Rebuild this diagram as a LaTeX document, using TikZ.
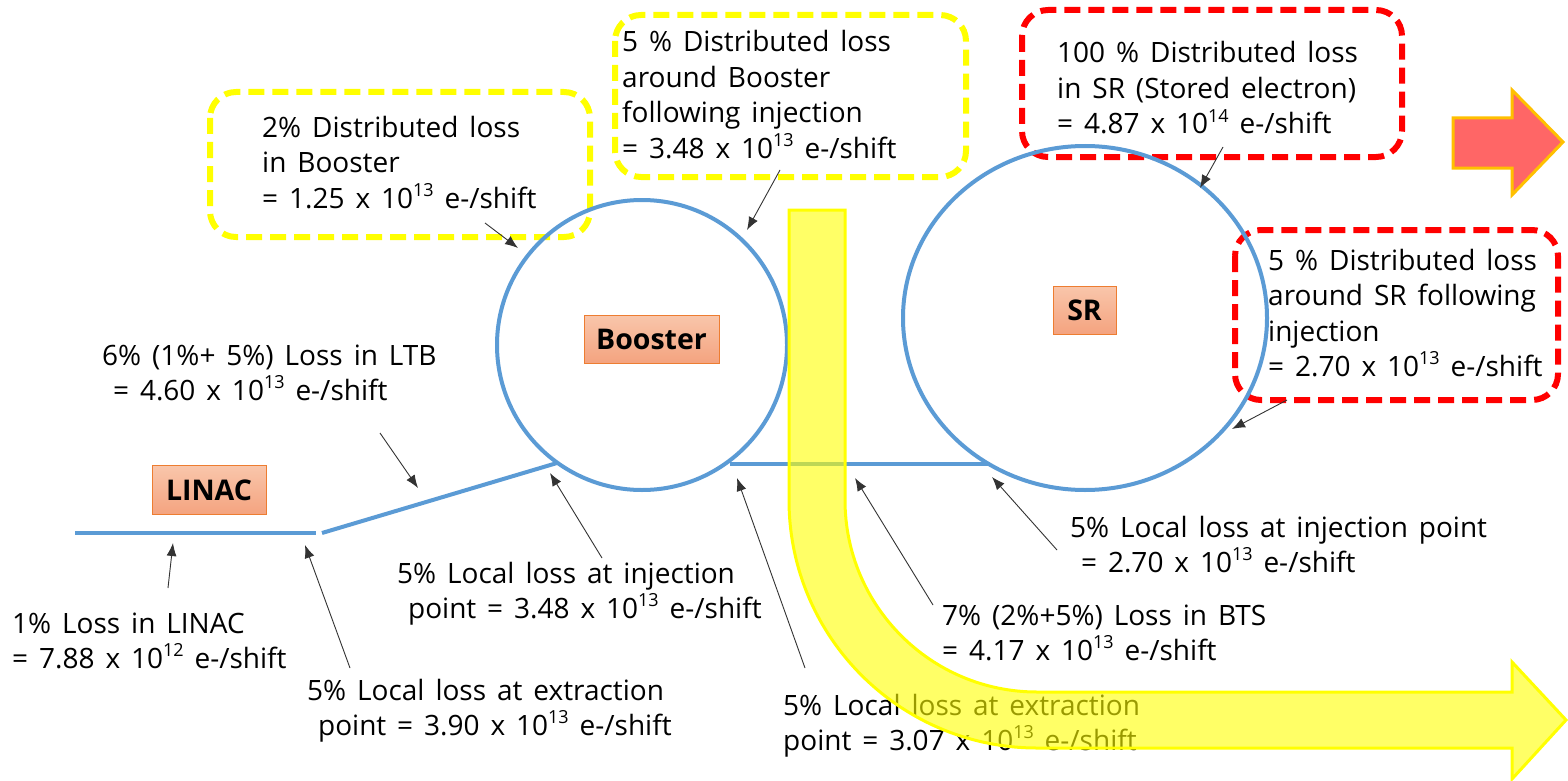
\documentclass[tikz,border=0pt]{standalone}
\usepackage{fontspec}
\setmainfont[WordSpace=1.5]{Open Sans}
\usetikzlibrary{arrows.meta}
\definecolor{beamblue}{HTML}{5B9BD5}
\definecolor{dashyellow}{HTML}{FFFF00}
\definecolor{dashred}{HTML}{FF0000}
\definecolor{redfill}{HTML}{FF6666}
\definecolor{goldline}{HTML}{FFC000}
\definecolor{boxtop}{HTML}{F9C6AB}
\definecolor{boxbot}{HTML}{F4A37F}
\definecolor{boxline}{HTML}{ED7D31}
\newcommand\ee[1]{\raisebox{0.42em}{\fontsize{18}{18}\selectfont #1}}
\newcommand\Ln[1]{\hbox{#1}}
\tikzset{
  beam/.style={draw=beamblue,line width=4pt},
  ring/.style={draw=beamblue,line width=4pt},
  yelbox/.style={draw=dashyellow,line width=6pt,rounded corners=26pt,dash pattern=on 16pt off 8pt},
  redbox/.style={draw=dashred,line width=6pt,rounded corners=26pt,dash pattern=on 16pt off 8pt},
  lbl/.style={anchor=base west,inner sep=0pt,font=\fontsize{28}{35.5}\selectfont},
  ptr/.style={draw=black!80,line width=0.9pt,-{Latex[length=13pt,width=10pt]}},
  tag/.style={draw=boxline,line width=1pt,top color=boxtop,bottom color=boxbot,
    font=\fontsize{28.5}{28.5}\selectfont\bfseries,inner sep=0pt},
}
\begin{document}
\begin{tikzpicture}[x=1pt,y=-1pt]
\useasboundingbox (0,0) rectangle (1568,781);
\fill[white] (0,0) rectangle (1568,781);

% dashed callout boxes
\draw[yelbox] (210,92) rectangle (590,237);
\draw[yelbox] (615,15) rectangle (966,177);
\draw[redbox] (1022,10) rectangle (1402,157);
\draw[redbox] (1235,230) rectangle (1558,400);

% rings and beam lines
\draw[ring] (642,345) circle [radius=145];
\draw[ring] (1085,318) ellipse [x radius=182, y radius=172];
\coordinate (linA) at (75,533);
\coordinate (linB) at (316,533);
\coordinate (ltbA) at (322,533);
\coordinate (ltbB) at (557,463);
\coordinate (btsA) at (730,464);
\coordinate (btsB) at (990,464);
\draw[beam] (linA) -- (linB);
\draw[beam] (ltbA) -- (ltbB);
\draw[beam] (btsA) -- (btsB);

% tags
\node[tag,minimum width=114pt,minimum height=49pt] (linac) at (209,490) {LINAC};
\node[tag,minimum width=135pt,minimum height=48pt] (booster) at (651.5,339) {Booster};
\node[tag,minimum width=63pt,minimum height=48pt] (sr) at (1084.5,310) {SR};

% red arrow
\draw[draw=goldline,fill=redfill,line width=3pt,line join=miter]
  (1453,118) -- (1512,118) -- (1512,90) -- (1563,142) -- (1512,195) -- (1512,168) -- (1453,168) -- cycle;

% labels
\node[lbl] (t1) at (262,137) {\vtop{\Ln{2\% Distributed loss}\Ln{in Booster}\Ln{= 1.25 x 10\ee{13} e-/shift}}};
\node[lbl] (t2) at (622,52) {\vtop{\Ln{5 \% Distributed loss}\Ln{around Booster}\Ln{following injection}\Ln{= 3.48 x 10\ee{13} e-/shift}}};
\node[lbl] (t3) at (1057,63) {\vtop{\Ln{100 \% Distributed loss}\Ln{in SR (Stored electron)}\Ln{= 4.87 x 10\ee{14} e-/shift}}};
\node[lbl] (t4) at (1268,270) {\vtop{\Ln{5 \% Distributed loss}\Ln{around SR following}\Ln{injection}\Ln{= 2.70 x 10\ee{13} e-/shift}}};
\node[lbl] (t5) at (102,365) {\vtop{\Ln{6\% (1\%+ 5\%) Loss in LTB}\Ln{\ = 4.60 x 10\ee{13} e-/shift}}};
\node[lbl] (t6) at (12,633) {\vtop{\Ln{1\% Loss in LINAC}\Ln{= 7.88 x 10\ee{12} e-/shift}}};
\node[lbl] (t7) at (307,700) {\vtop{\Ln{5\% Local loss at extraction}\Ln{\ point = 3.90 x 10\ee{13} e-/shift}}};
\node[lbl] (t8) at (397,583) {\vtop{\Ln{5\% Local loss at injection}\Ln{\ point = 3.48 x 10\ee{13} e-/shift}}};
\node[lbl] (t9) at (1070,537) {\vtop{\Ln{5\% Local loss at injection point}\Ln{\ = 2.70 x 10\ee{13} e-/shift}}};
\node[lbl] (t10) at (942,625) {\vtop{\Ln{7\% (2\%+5\%) Loss in BTS}\Ln{= 4.17 x 10\ee{13} e-/shift}}};
\node[lbl] (t11) at (783,715) {\vtop{\Ln{5\% Local loss at extraction}\Ln{point = 3.07 x 10\ee{13} e-/shift}}};

% pointer arrows
\coordinate (a1s) at (168,588); \coordinate (a1e) at (173,543);
\coordinate (a2s) at (350,668); \coordinate (a2e) at (305,545);
\coordinate (a3s) at (380,433); \coordinate (a3e) at (418,488);
\coordinate (a4s) at (602,558); \coordinate (a4e) at (550,473);
\coordinate (a5s) at (485,223); \coordinate (a5e) at (518,248);
\coordinate (a6s) at (780,170); \coordinate (a6e) at (747,230);
\coordinate (a7s) at (805,668); \coordinate (a7e) at (737,478);
\coordinate (a8s) at (933,605); \coordinate (a8e) at (855,478);
\coordinate (a9s) at (1057,550); \coordinate (a9e) at (992,477);
\coordinate (a10s) at (1223,147); \coordinate (a10e) at (1200,188);
\coordinate (a11s) at (1287,400); \coordinate (a11e) at (1232,429);
\foreach \i in {1,...,11} { \draw[ptr] (a\i s) -- (a\i e); }

% big yellow arrow (translucent, on top)
\draw[draw=dashyellow,line width=3pt,fill=dashyellow,fill opacity=0.6,line join=miter]
  (789,210) -- (845,210) -- (845,500) arc[start angle=180,end angle=90,radius=192]
  -- (1512,692) -- (1512,662) -- (1566,720) -- (1512,779) -- (1512,748) -- (1037,748)
  arc[start angle=90,end angle=180,radius=248] -- cycle;
\end{tikzpicture}
\end{document}
